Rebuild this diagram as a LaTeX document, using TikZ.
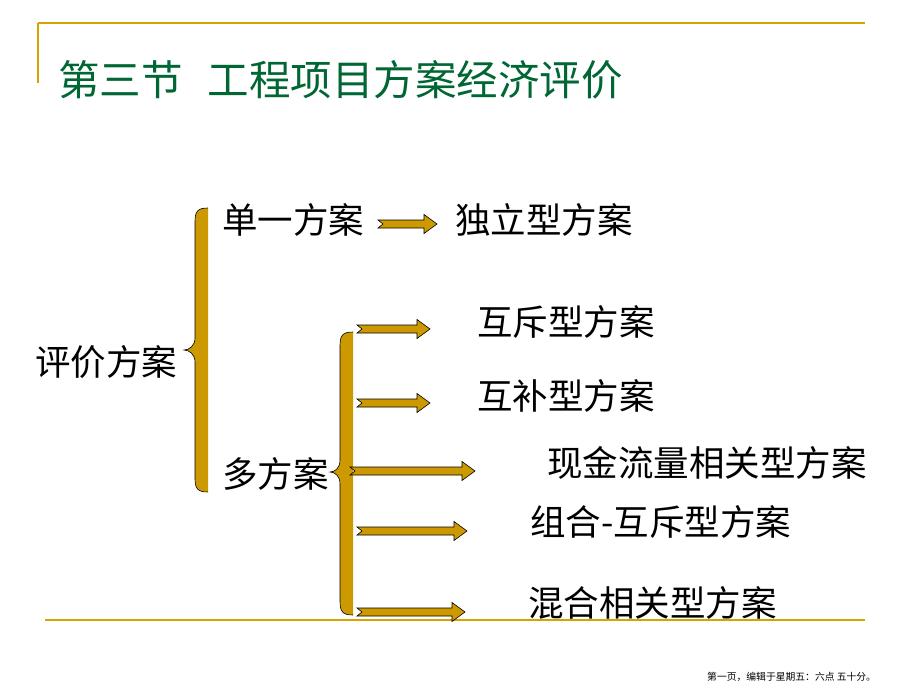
\documentclass[tikz,border=0pt]{standalone}
\usepackage{fontspec}
\newfontfamily\cjk{Noto Sans CJK SC}
\definecolor{gold}{RGB}{204,153,0}
\definecolor{rule}{RGB}{214,163,0}
\definecolor{titlegreen}{RGB}{0,102,51}
\tikzset{
  plan/.style={anchor=west,inner sep=0pt,font=\cjk\fontsize{35.5}{42}\selectfont},
  heading/.style={anchor=west,inner sep=0pt,text=titlegreen,font=\cjk\fontsize{41.5}{48}\selectfont},
  pagenote/.style={anchor=west,inner sep=0pt,font=\cjk\fontsize{9.8}{12}\selectfont},
  blockarrow/.style={fill=gold,draw=black,line width=0.6pt,line join=miter}
}
% block arrow: tail x, tip x, y
\newcommand{\goldarrow}[3]{%
  \draw[blockarrow] (#1,#3-4) -- (#2-13,#3-4) -- (#2-13,#3-9.5) -- (#2,#3) -- (#2-13,#3+9.5)
    -- (#2-13,#3+4) -- (#1,#3+4) -- (#1+5,#3) -- cycle;}
% brace: left x, right x, tip x, top y, tip y, bottom y
\newcommand{\goldbrace}[6]{%
  \fill[gold] (#2,#4) .. controls (#1+2,#4) and (#1,#4+4) .. (#1,#4+14) -- (#1,#5-12)
    .. controls (#1,#5-4) and (#3+5,#5) .. (#3,#5) .. controls (#3+5,#5) and (#1,#5+4) .. (#1,#5+12)
    -- (#1,#6-14) .. controls (#1,#6-4) and (#1+2,#6) .. (#2,#6) -- cycle;
  \draw[line width=0.6pt] (#2,#4) .. controls (#1+2,#4) and (#1,#4+4) .. (#1,#4+14) -- (#1,#5-12)
    .. controls (#1,#5-4) and (#3+5,#5) .. (#3,#5) .. controls (#3+5,#5) and (#1,#5+4) .. (#1,#5+12)
    -- (#1,#6-14) .. controls (#1,#6-4) and (#1+2,#6) .. (#2,#6);}
\begin{document}
\begin{tikzpicture}[x=1pt,y=-1pt]
  \useasboundingbox (0,0) rectangle (920,690);
  % frame lines
  \draw[rule,line width=2pt] (38,23) -- (865,23);
  \draw[rule,line width=1.2pt] (38,23) -- (38,83);
  \draw[rule,line width=1.5pt] (45,620) -- (865,620);
  \node[heading] (title) at (58,80) {第三节\hspace{25pt}工程项目方案经济评价};
  % braces
  \goldbrace{195}{208}{184}{208}{350}{492}
  \goldbrace{340}{353}{330}{332}{472}{615}
  % plans
  \node[plan] (pj) at (35,362) {评价方案};
  \node[plan] (dy) at (222,220) {单一方案};
  \node[plan] (dl) at (455,220) {独立型方案};
  \node[plan] (dfa) at (222,474) {多方案};
  \node[plan] (hc) at (477,322) {互斥型方案};
  \node[plan] (hb) at (477,396) {互补型方案};
  \node[plan] (xj) at (547,463) {现金流量相关型方案};
  \node[plan] (zh) at (530,522) {组合-互斥型方案};
  \node[plan] (hh) at (528,603) {混合相关型方案};
  % arrows
  \goldarrow{378}{437}{224}
  \goldarrow{357}{430}{329}
  \goldarrow{357}{430}{403}
  \goldarrow{350}{475}{471}
  \goldarrow{357}{467}{531}
  \goldarrow{357}{465}{612}
  \node[pagenote] (note) at (707,677) {第一页，编辑于星期五：六点 五十分。};
\end{tikzpicture}
\end{document}
